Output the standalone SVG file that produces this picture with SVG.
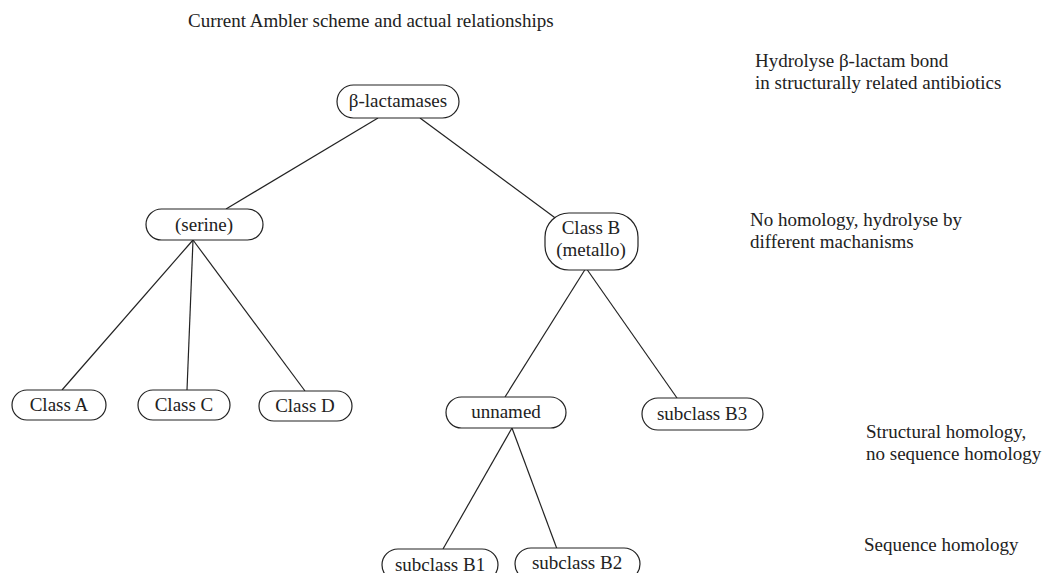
<svg xmlns="http://www.w3.org/2000/svg" width="1043" height="573" viewBox="0 0 1043 573">
<style>
text{font-family:"Liberation Serif","Times New Roman",serif;font-size:19px;fill:#222}
.n rect{fill:#fff;stroke:#222;stroke-width:1.2}
.n text{text-anchor:middle}
#edges line{stroke:#222;stroke-width:1.2}
</style>
<rect width="1043" height="573" fill="#fff"/>
<text x="188" y="27">Current Ambler scheme and actual relationships</text>
<text x="755" y="67">Hydrolyse β-lactam bond</text>
<text x="755" y="89">in structurally related antibiotics</text>
<text x="750" y="226">No homology, hydrolyse by</text>
<text x="750" y="248">different machanisms</text>
<text x="866" y="438">Structural homology,</text>
<text x="866" y="460">no sequence homology</text>
<text x="864" y="551">Sequence homology</text>
<g id="edges">
<line x1="378" y1="118" x2="226" y2="209"/>
<line x1="420" y1="118" x2="558" y2="220"/>
<line x1="193" y1="240" x2="62" y2="390"/>
<line x1="193" y1="240" x2="187" y2="390"/>
<line x1="193" y1="240" x2="305" y2="391"/>
<line x1="586" y1="268" x2="505" y2="397"/>
<line x1="586" y1="268" x2="677" y2="398"/>
<line x1="512" y1="428" x2="443" y2="549"/>
<line x1="512" y1="428" x2="557" y2="549"/>
</g>
<g id="n-beta" class="n"><rect x="337" y="85" width="122" height="33" rx="16.5"/><text x="398" y="107">β-lactamases</text></g>
<g id="n-serine" class="n"><rect x="146" y="209" width="117" height="31" rx="15.5"/><text x="204" y="231">(serine)</text></g>
<g id="n-classb" class="n"><rect x="545" y="213" width="93" height="57" rx="24"/><text x="591" y="234">Class B</text><text x="591" y="256">(metallo)</text></g>
<g id="n-classa" class="n"><rect x="12" y="390" width="94" height="30" rx="15"/><text x="59" y="411">Class A</text></g>
<g id="n-classc" class="n"><rect x="138" y="390" width="92" height="30" rx="15"/><text x="184" y="411">Class C</text></g>
<g id="n-classd" class="n"><rect x="259" y="391" width="93" height="30" rx="15"/><text x="305" y="412">Class D</text></g>
<g id="n-unnamed" class="n"><rect x="446" y="397" width="120" height="31" rx="15.5"/><text x="506" y="418">unnamed</text></g>
<g id="n-b3" class="n"><rect x="642" y="398" width="121" height="32" rx="16"/><text x="702" y="420">subclass B3</text></g>
<g id="n-b1" class="n"><rect x="382" y="549" width="116" height="32" rx="16"/><text x="440" y="571">subclass B1</text></g>
<g id="n-b2" class="n"><rect x="515" y="548" width="125" height="32" rx="16"/><text x="577" y="569">subclass B2</text></g>
</svg>
